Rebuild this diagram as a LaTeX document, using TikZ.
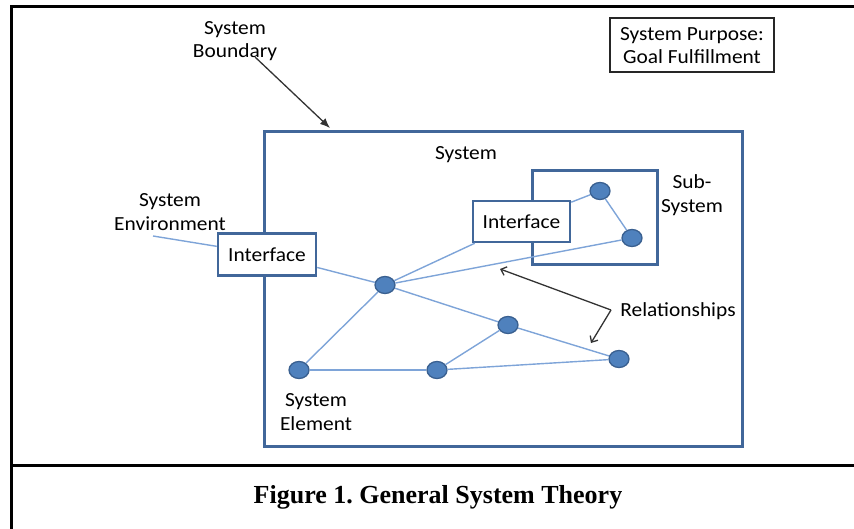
\documentclass[tikz,border=0pt]{standalone}
\usepackage{fontspec}
\setmainfont{Liberation Serif}
\newfontfamily\lblfont[FakeStretch=1.07]{Carlito}
\usetikzlibrary{arrows.meta,shapes.geometric}
\definecolor{sysblue}{HTML}{41679A}
\definecolor{nodefill}{HTML}{4F81BD}
\definecolor{nodeline}{HTML}{3A6090}
\definecolor{edgeblue}{HTML}{7EA4D8}
\definecolor{arrowgray}{HTML}{333333}
\frenchspacing
\begin{document}
\begin{tikzpicture}[x=1pt,y=-1pt,
  txt/.style={font=\lblfont\fontsize{20}{23.5}\selectfont, align=center, inner sep=0pt, text=black},
  sysbox/.style={draw=sysblue, line width=3pt, inner sep=0pt},
  ifbox/.style={draw=sysblue, fill=white, line width=2.5pt, inner sep=0pt, font=\lblfont\fontsize{20}{23.5}\selectfont},
  elem/.style={ellipse, draw=nodeline, fill=nodefill, line width=1.3pt, minimum width=20pt, minimum height=17pt, inner sep=0pt},
  rel/.style={draw=edgeblue, line width=1.4pt},
  pointer/.style={draw=arrowgray, line width=1.3pt}
]
\useasboundingbox (0,0) rectangle (854,529);
% outer frame
\draw[line width=3pt] (11,529) -- (11,7) -- (854,7);
\draw[line width=3pt] (11,465) -- (854,465);
% purpose box
\node[draw=black!85, line width=1.5pt, minimum width=164pt, minimum height=54pt, inner sep=0pt] (purpose) at (692,45) {};
\node[txt] (purposetxt) at (692,45.5) {System Purpose:\\Goal Fulfillment};
% system and subsystem
\node[sysbox, minimum width=478pt, minimum height=314pt] (sys) at (503,289) {};
\node[sysbox, minimum width=125pt, minimum height=94pt] (sub) at (594.5,218) {};
% interfaces
\node[ifbox, minimum width=98pt, minimum height=42pt] (ifl) at (267,254.5) {Interface};
\node[ifbox, minimum width=97pt, minimum height=41pt] (ifr) at (521.5,221.5) {Interface};
% elements
\node[elem] (A) at (385,285) {};
\node[elem] (B) at (299,370) {};
\node[elem] (C) at (437,370) {};
\node[elem] (D) at (508,325) {};
\node[elem] (E) at (619,359) {};
\node[elem] (S1) at (600,191) {};
\node[elem] (S2) at (632,238) {};
\coordinate (env) at (153,236);
% relationships
\draw[rel] (env) -- (ifl);
\draw[rel] (ifl) -- (A);
\draw[rel] (A) -- (ifr);
\draw[rel] (A) -- (S2);
\draw[rel] (A) -- (B);
\draw[rel] (A) -- (D);
\draw[rel] (D) -- (E);
\draw[rel] (B) -- (C);
\draw[rel] (C) -- (D);
\draw[rel] (C) -- (E);
\draw[rel] (ifr) -- (S1);
\draw[rel] (S1) -- (S2);
% labels
\node[txt] (systxt) at (466,155) {System};
\node[txt] (subtxt) at (692,195) {Sub-\\System};
\node[txt] (bndtxt) at (235,41) {System\\Boundary};
\node[txt] (envtxt) at (170,212) {System\\Environment};
\node[txt] (reltxt) at (678,311) {Relationships};
\node[txt] (eltxt) at (316,412) {System\\Element};
\node[font=\bfseries\fontsize{26}{30}\selectfont, inner sep=0pt] (caption) at (438,497) {Figure 1. General System Theory};
% pointers
\coordinate (bstart) at (255,57);
\coordinate (btip) at (330,128);
\draw[pointer, -{Latex[length=10pt,width=8pt]}] (bstart) -- (btip);
\coordinate (rc) at (611,310);
\coordinate (r1) at (500,269);
\coordinate (r2) at (591,343);
\draw[pointer, -{Straight Barb[length=5pt,width=9pt]}] (rc) -- (r1);
\draw[pointer, -{Straight Barb[length=5pt,width=9pt]}] (rc) -- (r2);
\end{tikzpicture}
\end{document}
